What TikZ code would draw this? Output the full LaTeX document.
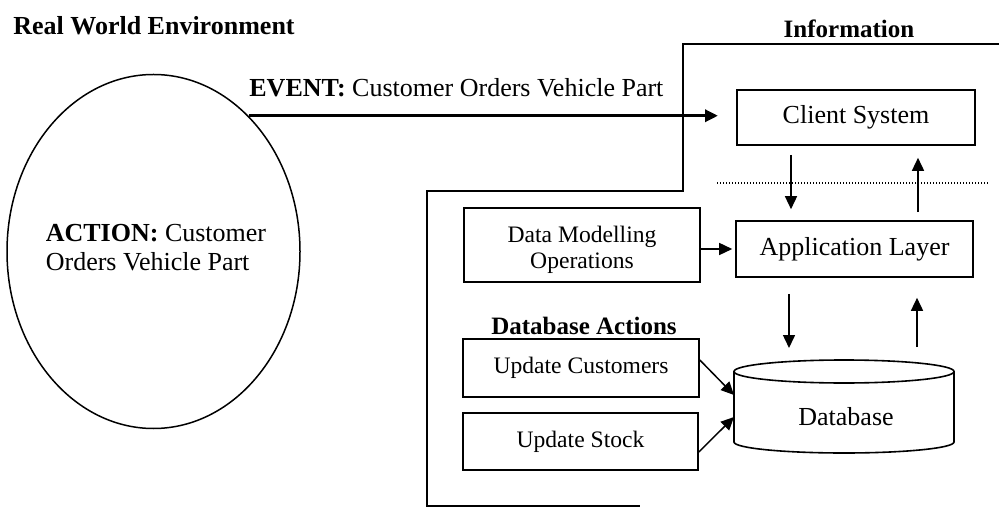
\documentclass[tikz,border=0pt]{standalone}
\usepackage{fontspec}
\setmainfont{Liberation Serif}
\usetikzlibrary{arrows.meta,shapes.geometric}

\begin{document}
\begin{tikzpicture}[x=0.5pt,y=-0.5pt,
  box/.style={draw, line width=0.8pt, inner sep=0pt, align=center},
  bigtext/.style={font=\fontsize{13}{14.5}\selectfont},
  smalltext/.style={font=\fontsize{11.8}{13}\selectfont},
  heading/.style={font=\fontsize{12.5}{14}\selectfont\bfseries, inner sep=0pt},
  arr/.style={line width=0.75pt, -{Triangle[length=6.5pt,width=6pt]}},
  evarrow/.style={line width=1.6pt, -{Triangle[length=6.5pt,width=6pt]}},
  frame/.style={line width=0.75pt},
  sep/.style={line width=0.55pt, dash pattern=on 0.5pt off 1pt}
]
\useasboundingbox (0,0) rectangle (999,507);

% headings
\node[heading, font=\fontsize{13}{14}\selectfont\bfseries, anchor=west] (rwe) at (13,26) {Real World Environment};
\node[heading] (info) at (849,29) {Information};

% real-world action
\node[draw, ellipse, line width=0.75pt, inner sep=0pt,
      minimum width=146.5pt, minimum height=177pt] (act) at (153.5,251.5) {};
\node[bigtext, align=left, inner sep=0pt] (acttext) at (156,248)
  {\textbf{ACTION:} Customer\\Orders Vehicle Part};

% information system boundary
\draw[frame] (999,44) -- (683,44) -- (683,191) -- (427,191) -- (427,506) -- (640,506);

% event crossing into the information system
\coordinate (evtip) at (718,115);
\draw[evarrow] (act.55.7) -- (act.55.7 -| evtip);
\node[bigtext, anchor=base west, inner sep=0pt] (evlabel) at (249,97)
  {\textbf{EVENT:} Customer Orders Vehicle Part};

% layers
\node[box, bigtext, minimum width=119pt, minimum height=27.5pt] (cs) at (856,117.5) {Client System};
\node[box, bigtext, minimum width=118.5pt, minimum height=28pt] (app) at (854.5,249) {Application Layer};
\node[box, minimum width=118pt, minimum height=37pt] (dm) at (582,245) {};
\node[smalltext, align=center, inner sep=0pt] (dmtext) at (582,250) {Data Modelling\\Operations};

\draw[sep] (717,183) -- (990,183);

% database actions
\node[heading] (dba) at (584,326) {Database Actions};
\node[box, smalltext, minimum width=118pt, minimum height=29pt] (uc) at (581,368) {Update Customers};
\node[box, smalltext, minimum width=117.5pt, minimum height=28.5pt] (us) at (580.5,441.5) {Update Stock};

% database cylinder
\draw[line width=0.8pt] (734,371.5) -- (734,442)
  arc[start angle=180, end angle=360, x radius=55pt, y radius=5.5pt] -- (954,371.5);
\draw[line width=0.8pt] (844,371.5) ellipse[x radius=55pt, y radius=5.75pt];
\node[bigtext, inner sep=0pt] (db) at (846,417) {Database};
\coordinate (dbtop) at (844,360);
\coordinate (dbin1) at (734,395);
\coordinate (dbin2) at (734,417);

% vertical flows
\coordinate (xl) at (791,0);
\coordinate (xr) at (918,0);
\coordinate (xl2) at (789,0);
\coordinate (xr2) at (917,0);
\draw[arr, shorten <=4.5pt, shorten >=5.5pt] (cs.south -| xl) -- (app.north -| xl);
\draw[arr, shorten <=4pt, shorten >=6pt] (app.north -| xr) -- (cs.south -| xr);
\draw[arr, shorten <=8pt, shorten >=6pt] (app.south -| xl2) -- (dbtop -| xl2);
\draw[arr, shorten <=6.5pt, shorten >=10pt] (dbtop -| xr2) -- (app.south -| xr2);

% feeds
\draw[arr, shorten >=1.5pt] (dm.east |- app.west) -- (app.west);
\draw[arr] ([yshift=4pt]uc.east) -- (dbin1);
\draw[arr] ([yshift=-5.25pt]us.east) -- (dbin2);
\end{tikzpicture}
\end{document}
